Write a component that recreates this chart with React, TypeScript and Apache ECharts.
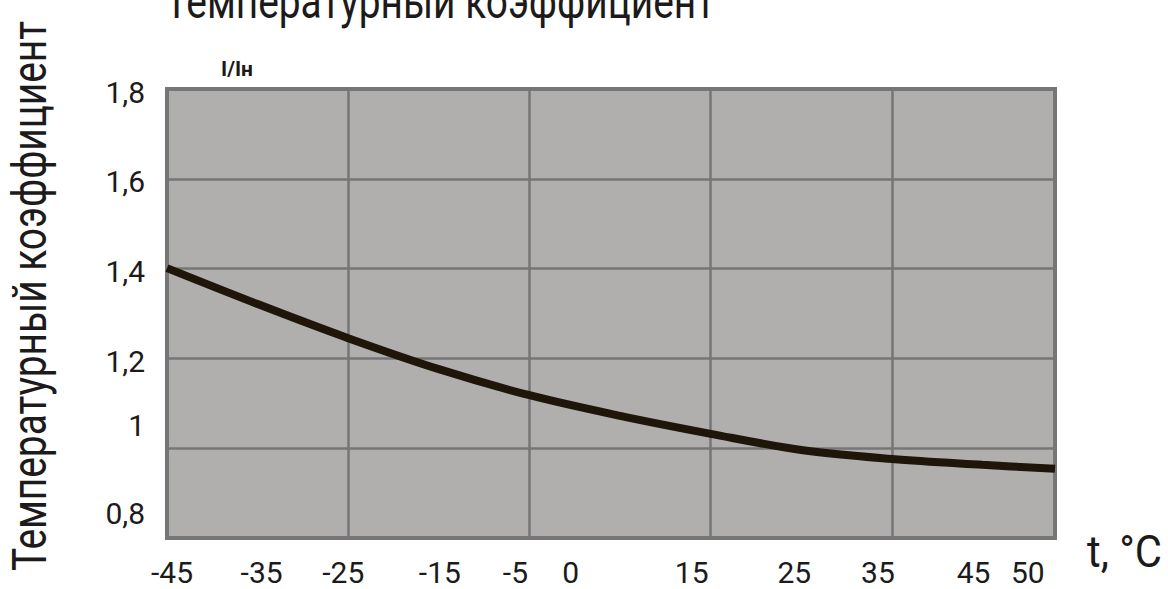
import React, { useEffect, useRef } from "react";
import * as echarts from "echarts";

// ---- data ----
const tempC = [-45, -35, -25, -15, -5, 5, 15, 25, 35, 45, 53];
const coef = [1.401, 1.321, 1.245, 1.176, 1.118, 1.072, 1.032, 0.996, 0.976, 0.963, 0.954];

const xTickValues = [-45, -35, -25, -15, -5, 0, 15, 25, 35, 45, 50];
const xTickLabels = ["-45", "-35", "-25", "-15", "-5", "0", "15", "25", "35", "45", "50"];
const yTickValues = [0.8, 1.0, 1.2, 1.4, 1.6, 1.8];
const yTickLabels = ["0,8", "1", "1,2", "1,4", "1,6", "1,8"];

const titleText = "Температурный коэффициент";
const yName = "Температурный коэффициент";
const unitLabel = "I/Iн";
const xName = "t, °C";

// ---- styles ----
const FONT = "Roboto, 'Noto Sans', sans-serif";
const TEXT = "#1c1a1a";
// horizontal nudges of x labels (px, + = right), as in the reference artwork
const xNudge = [5, 4, -5, 1, -14, -4, -19, -7, -14, -9, 0];
// vertical nudges of y labels (px, + = down)
const yNudge = [-25, -23, 3, 3, 3, 3];

function buildOption() {
  const xRich: Record<string, any> = {};
  xNudge.forEach((d, i) => {
    xRich["x" + i] = {
      fontSize: 30,
      fontFamily: FONT,
      color: TEXT,
      padding: [0, d < 0 ? -2 * d : 0, 0, d > 0 ? 2 * d : 0],
    };
  });
  const yRich: Record<string, any> = {};
  yNudge.forEach((d, i) => {
    yRich["y" + i] = {
      fontSize: 30,
      fontFamily: FONT,
      color: TEXT,
      padding: [d > 0 ? 2 * d : 0, 0, d < 0 ? -2 * d : 0, 0],
    };
  });

  return {
    animation: false,
    backgroundColor: "#ffffff",
    grid: {
      left: 167,
      right: 113,
      top: 89,
      bottom: 51,
      show: true,
      backgroundColor: "#b1aeae",
      borderColor: "#777777",
      borderWidth: 4,
      z: 0,
    },
    xAxis: [
      {
        type: "value",
        min: -45,
        max: 53,
        interval: 20,
        axisLine: { show: false },
        axisTick: { show: false },
        axisLabel: { show: false },
        splitLine: { show: true, lineStyle: { color: "#767676", width: 2.5 } },
      },
      {
        type: "value",
        min: -45,
        max: 53,
        interval: 5,
        position: "bottom",
        axisLine: { show: false },
        axisTick: { show: false },
        splitLine: { show: false },
        axisLabel: {
          margin: 19,
          fontSize: 30,
          fontFamily: FONT,
          color: TEXT,
          formatter: (v: number) => {
            const i = xTickValues.findIndex((t) => Math.abs(t - v) < 1e-6);
            if (i < 0) return "";
            return "{x" + i + "|" + xTickLabels[i] + "}";
          },
          rich: xRich,
        },
      },
    ],
    yAxis: {
      type: "value",
      min: 0.8,
      max: 1.8,
      interval: 0.2,
      axisLine: { show: false },
      axisTick: { show: false },
      splitLine: { show: true, lineStyle: { color: "#767676", width: 2.5 } },
      axisLabel: {
        margin: 22,
        fontSize: 30,
        fontFamily: FONT,
        color: TEXT,
        formatter: (v: number) => {
          const i = yTickValues.findIndex((t) => Math.abs(t - v) < 1e-6);
          if (i < 0) return "";
          return "{y" + i + "|" + yTickLabels[i] + "}";
        },
        rich: yRich,
      },
    },
    graphic: [
      {
        type: "text",
        x: 165,
        y: 1.5,
        scaleX: 0.81,
        style: {
          text: titleText,
          fontSize: 48,
          fontFamily: FONT,
          fill: TEXT,
          align: "left",
          verticalAlign: "middle",
        },
      },
      {
        type: "text",
        x: 30,
        y: 296,
        rotation: Math.PI / 2,
        scaleX: 0.81,
        style: {
          text: yName,
          fontSize: 48,
          fontFamily: FONT,
          fill: TEXT,
          align: "center",
          verticalAlign: "middle",
        },
      },
      {
        type: "text",
        x: 221,
        y: 69,
        style: {
          text: unitLabel,
          fontSize: 21,
          fontWeight: "bold",
          fontFamily: FONT,
          fill: TEXT,
          align: "left",
          verticalAlign: "middle",
        },
      },
      {
        type: "text",
        x: 1087,
        y: 552,
        scaleX: 0.95,
        style: {
          text: xName,
          fontSize: 44,
          fontFamily: FONT,
          fill: TEXT,
          align: "left",
          verticalAlign: "middle",
        },
      },
    ],
    series: [
      {
        type: "line",
        xAxisIndex: 0,
        data: tempC.map((t, i) => [t, coef[i]]),
        smooth: 0.35,
        showSymbol: false,
        symbol: "none",
        lineStyle: { color: "#1e1608", width: 8 },
        z: 5,
      },
    ],
  };
}

export default function App() {
  const ref = useRef<HTMLDivElement>(null);
  useEffect(() => {
    if (!ref.current) return;
    const chart = echarts.init(ref.current, null, { renderer: "svg" });
    chart.setOption(buildOption() as any);
    return () => chart.dispose();
  }, []);
  return (
    <div
      ref={ref}
      style={{ position: "fixed", left: 0, top: 0, width: 1168, height: 589, background: "#fff" }}
    />
  );
}
